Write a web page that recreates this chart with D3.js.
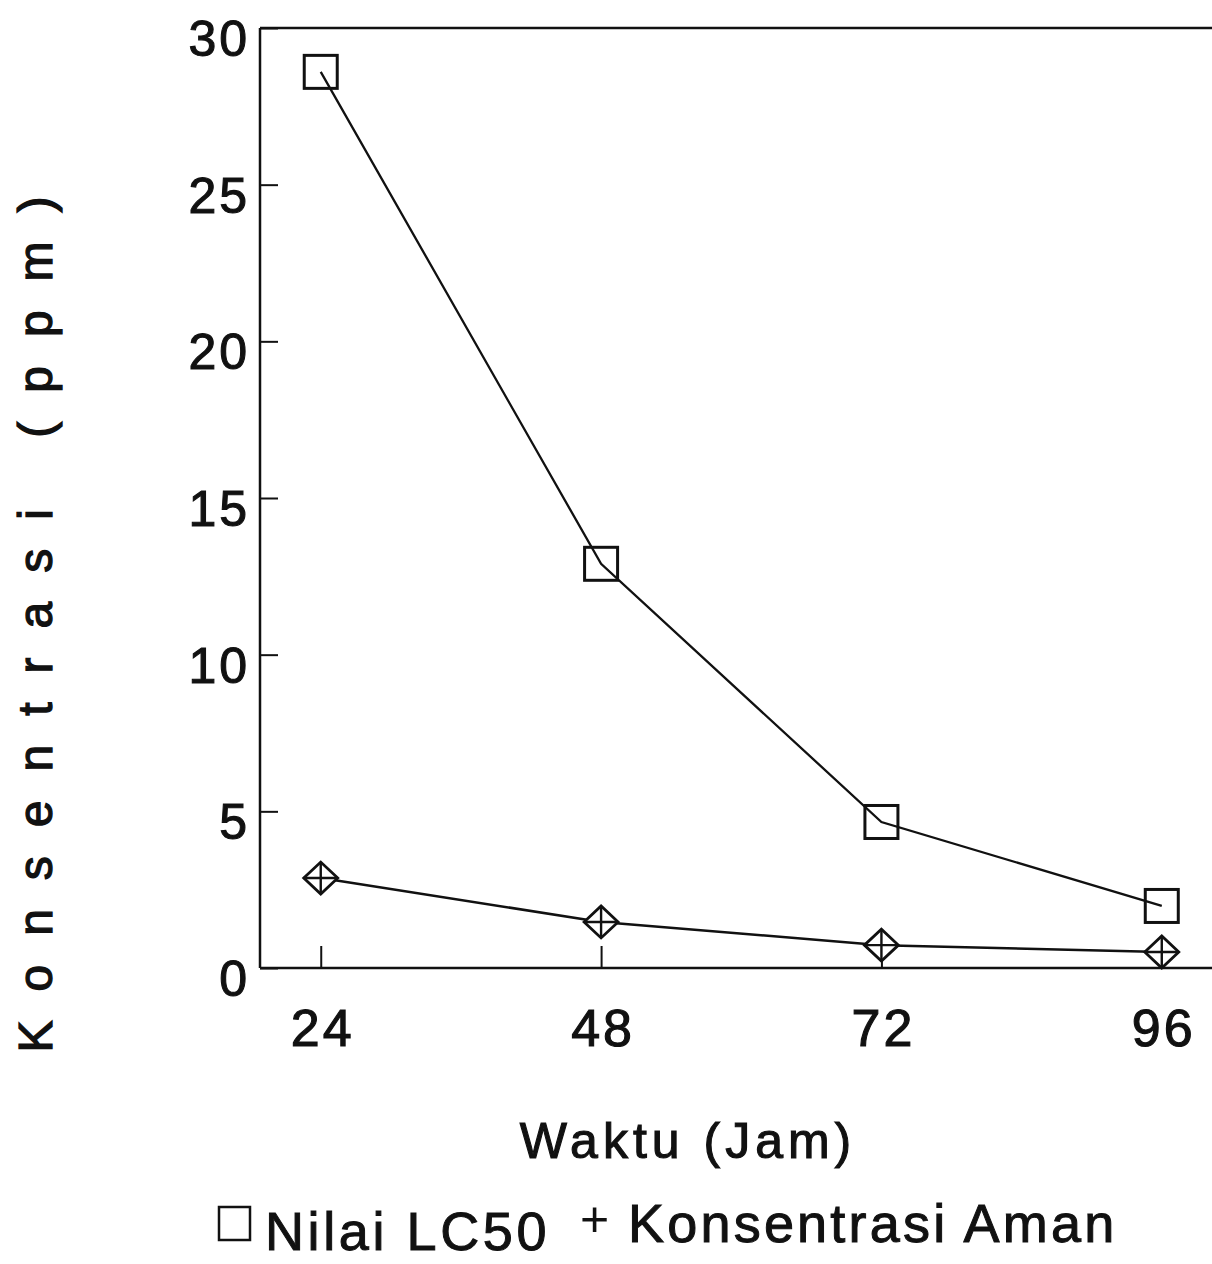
<!DOCTYPE html>
<html>
<head>
<meta charset="utf-8">
<script src="https://cdn.jsdelivr.net/npm/d3@7"></script>
<style>
  body { margin: 0; background: #fff; }
  text { font-family: 'Liberation Sans', Arial, sans-serif; fill: #111; }
</style>
</head>
<body>
<div id="chart"></div>
<script>
'use strict';

// waktu (jam) on the x axis
const hours = [24, 48, 72, 96];
// Nilai LC50 (ppm)
const lc50Values = [28.6, 12.9, 4.66, 1.98];
// Konsentrasi Aman (ppm)
const safeValues = [2.87, 1.47, 0.73, 0.51];
// tick labels of the y axis
const yTicks = [0, 5, 10, 15, 20, 25, 30];

const width = 1212;
const height = 1264;

/** the svg element for the chart */
const svg = d3.select('#chart')
  .append('svg')
    .attr('width', width)
    .attr('height', height);

// scales, the left edge of the frame is at 260 and the right edge runs off the page
const x = d3.scaleLinear()
  .domain([18.8, 100.3])
  .range([260, 1212]);

const y = d3.scaleLinear()
  .domain([0, 30])
  .range([968, 28]);

const ink = '#111';

// frame: top line and the two axes
svg.append('line')
  .attr('x1', x.range()[0]).attr('x2', x.range()[1])
  .attr('y1', y(30)).attr('y2', y(30))
  .attr('stroke', ink).attr('stroke-width', 2.5);

// y axis with inward ticks
const yAxis = svg.append('g')
  .attr('transform', `translate(${x.range()[0]},0)`)
  .call(d3.axisRight(y).tickValues(yTicks).tickSize(18).tickFormat(''));
yAxis.select('.domain').attr('stroke', ink).attr('stroke-width', 2.5).attr('d', `M0,${y(0)}V${y(30)}`);
yAxis.selectAll('.tick line').attr('stroke', ink).attr('stroke-width', 2);

svg.append('g')
  .selectAll('text')
  .data(yTicks)
  .join('text')
    .attr('x', 250)
    .attr('y', d => y(d) + 10)
    .attr('dy', '0.36em')
    .attr('text-anchor', 'end')
    .style('font-size', '50px')
    .style('letter-spacing', '3px')
    .attr('stroke', ink).attr('stroke-width', 1.1)
    .text(d => d);

// x axis with inward ticks
const xAxis = svg.append('g')
  .attr('transform', `translate(0,${y(0)})`)
  .call(d3.axisTop(x).tickValues(hours).tickSize(22).tickFormat(''));
xAxis.select('.domain').attr('stroke', ink).attr('stroke-width', 2.5).attr('d', `M${x.range()[0]},0H${x.range()[1]}`);
xAxis.selectAll('.tick line').attr('stroke', ink).attr('stroke-width', 2);

svg.append('g')
  .selectAll('text')
  .data(hours)
  .join('text')
    .attr('x', d => x(d) + 2)
    .attr('y', 1046)
    .attr('text-anchor', 'middle')
    .style('font-size', '52px')
    .style('letter-spacing', '3px')
    .attr('stroke', ink).attr('stroke-width', 1.1)
    .text(d => d);

// axis titles
svg.append('text')
  .attr('x', 688)
  .attr('y', 1158)
  .attr('text-anchor', 'middle')
  .style('font-size', '50px')
  .style('letter-spacing', '5px')
  .attr('stroke', ink).attr('stroke-width', 1.1)
  .text('Waktu (Jam)');

svg.append('text')
  .attr('transform', 'translate(52,610) rotate(-90)')
  .attr('text-anchor', 'middle')
  .style('font-size', '48px')
  .style('letter-spacing', '29px')
  .attr('stroke', ink).attr('stroke-width', 1.3)
  .text('Konsentrasi (ppm)');

// lines
const line = d3.line()
  .x(d => x(d[0]))
  .y(d => y(d[1]));

const lc50Points = hours.map((h, i) => [h, lc50Values[i]]);
const safePoints = hours.map((h, i) => [h, safeValues[i]]);

svg.append('path')
  .datum(lc50Points)
  .attr('d', line)
  .attr('fill', 'none')
  .attr('stroke', ink)
  .attr('stroke-width', 2.3);

svg.append('path')
  .datum(safePoints)
  .attr('d', line)
  .attr('fill', 'none')
  .attr('stroke', ink)
  .attr('stroke-width', 2.5);

// square markers, unfilled so the line shows inside
const sq = 33;
svg.append('g')
  .selectAll('rect')
  .data(lc50Points)
  .join('rect')
    .attr('x', d => x(d[0]) - sq / 2)
    .attr('y', d => y(d[1]) - sq / 2)
    .attr('width', sq)
    .attr('height', sq)
    .attr('fill', 'none')
    .attr('stroke', ink)
    .attr('stroke-width', 3);

// diamond markers with a cross inside
const dw = 17;
const dh = 16;
const diamonds = svg.append('g')
  .selectAll('g')
  .data(safePoints)
  .join('g')
    .attr('transform', d => `translate(${x(d[0])},${y(d[1])})`);
diamonds.append('path')
  .attr('d', `M${-dw},0L0,${-dh}L${dw},0L0,${dh}Z`)
  .attr('fill', '#fff')
  .attr('stroke', ink)
  .attr('stroke-width', 2.8);
diamonds.append('path')
  .attr('d', `M${-dw},0H${dw}M0,${-dh}V${dh}`)
  .attr('stroke', ink)
  .attr('stroke-width', 2.4);

// legend
const legend = svg.append('g');
legend.append('rect')
  .attr('x', 219).attr('y', 1207)
  .attr('width', 31).attr('height', 33)
  .attr('fill', 'none')
  .attr('stroke', ink)
  .attr('stroke-width', 2.5);
legend.append('text')
  .attr('x', 265).attr('y', 1250)
  .style('font-size', '54px')
  .style('letter-spacing', '3.6px')
  .attr('stroke', ink).attr('stroke-width', 1)
  .text('Nilai LC50');
legend.append('text')
  .attr('x', 580).attr('y', 1236)
  .style('font-size', '50px')
  .text('+');
legend.append('text')
  .attr('x', 628).attr('y', 1242)
  .style('font-size', '54px')
  .style('letter-spacing', '3.2px')
  .attr('stroke', ink).attr('stroke-width', 1)
  .text('Konsentrasi Aman');
</script>
</body>
</html>
